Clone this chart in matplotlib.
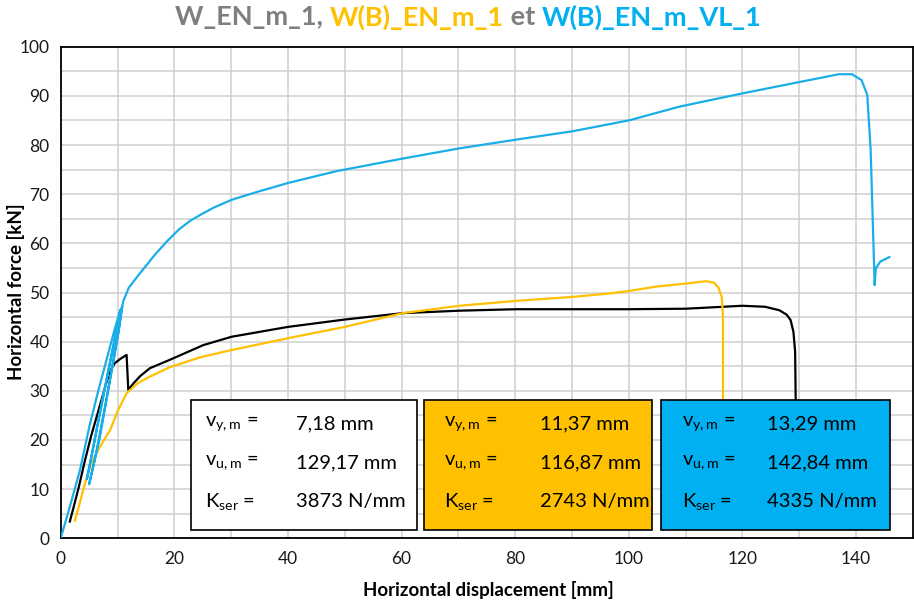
import numpy as np
import matplotlib.pyplot as plt
from matplotlib.patches import Rectangle

plt.rcParams['font.family'] = ['Lato', 'DejaVu Sans']
plt.rcParams['mathtext.default'] = 'regular'

# W_EN_m_1 (black)
kx = [1.6, 2.2, 3.2, 4.2, 5.4, 6.9, 8.0, 8.7, 9.5, 10.5, 11.6, 11.9, 12.8, 14.0, 15.7, 19.2,
      25.1, 30.1, 40.0, 50.0, 60.2, 70.2, 80.2, 90.1, 100.0, 110.0, 120.0, 124.0, 126.5,
      127.8, 128.5, 129.0, 129.3, 129.4, 129.4]
ky = [3.4, 6.0, 10.5, 15.5, 21.0, 27.0, 31.5, 34.0, 35.6, 36.5, 37.3, 30.2, 31.5, 33.0, 34.6, 36.3,
      39.3, 41.0, 43.0, 44.5, 45.8, 46.3, 46.6, 46.6, 46.6, 46.7, 47.3, 47.1, 46.4,
      45.5, 44.4, 42.0, 38.0, 28.0, 3.0]

# W(B)_EN_m_1 (yellow)
yx = [2.5, 3.2, 4.0, 4.6, 5.5, 6.9, 8.7, 10.0, 11.6, 13.5, 15.7, 19.2, 24.5, 30.1, 40.0, 50.0,
      60.2, 70.2, 80.2, 90.1, 96.6, 100.0, 104.8, 110.0, 113.6, 115.0, 115.8, 116.4, 116.6, 116.6]
yy = [3.6, 6.5, 10.0, 12.5, 15.5, 18.6, 22.0, 25.8, 29.5, 31.5, 32.9, 34.8, 36.8, 38.3, 40.7, 43.0,
      45.8, 47.3, 48.3, 49.1, 49.8, 50.3, 51.2, 51.8, 52.3, 52.0, 51.0, 49.0, 45.0, 3.0]

# W(B)_EN_m_VL_1 (blue)
bx = [0, 1.5, 3.4, 5.0, 6.5, 8.0, 9.5, 10.5, 9.8, 8.2, 6.3, 4.6, 5.5, 7.5, 9.5, 10.8,
      10.2, 8.5, 6.8, 5.0, 6.0, 8.0, 10.0, 11.0, 12.0, 13.8, 16.6, 18.7, 20.8, 22.8, 24.9, 27.0,
      30.2, 34.7, 40.1, 48.6, 50.0, 60.0, 70.1, 80.2, 90.1, 100.0, 107.0, 108.9, 120.0,
      130.0, 137.0, 139.3, 141.0, 142.0, 142.6, 143.3, 143.5, 144.3, 145.9]
by = [0, 6, 13.9, 22.5, 29.5, 36, 42.5, 46.5, 42, 33, 22, 12, 17, 29, 40.5, 47.2,
      42, 31, 20, 11, 16, 28, 41, 48.2, 51, 53.7, 57.7, 60.4, 62.8, 64.6, 66.0, 67.3,
      68.9, 70.5, 72.3, 74.7, 75.0, 77.2, 79.3, 81.1, 82.8, 85.0, 87.2, 87.8, 90.5,
      92.8, 94.4, 94.4, 93.2, 90.2, 79.0, 51.5, 54.9, 56.3, 57.2]

labels = ['v$_{y,m}$ =', 'v$_{u,m}$ =', 'K$_{ser}$ =']
vals_k = ['7,18 mm', '129,17 mm', '3873 N/mm']
vals_y = ['11,37 mm', '116,87 mm', '2743 N/mm']
vals_b = ['13,29 mm', '142,84 mm', '4335 N/mm']

YEL = '#FFC000'
BLU = '#00B0F0'
GRY = '#7F7F7F'

W, H = 914, 603
fig = plt.figure(figsize=(9.14, 6.03), dpi=100)
ax = fig.add_axes([60.7 / W, 1 - 538.3 / H, (912.7 - 60.7) / W, (538.3 - 46.7) / H])

ax.plot(kx, ky, color='black', lw=1.6, zorder=3)
ax.plot(yx, yy, color=YEL, lw=1.6, zorder=3)
ax.plot(bx, by, color='#1AAEE8', lw=1.6, zorder=3)

ax.set_xlim(0, 150)
ax.set_ylim(0, 100)
ax.set_xticks(np.arange(0, 151, 10))
ax.set_xticklabels([str(v) if v % 20 == 0 and v < 150 else '' for v in range(0, 151, 10)])
ax.set_yticks(np.arange(0, 101, 5))
ax.set_yticklabels([str(v) if v % 10 == 0 else '' for v in range(0, 101, 5)])
ax.tick_params(length=0, labelsize=12.5, colors='#1a1a1a')
ax.tick_params(axis='x', pad=9)
ax.tick_params(axis='y', pad=8)
ax.grid(True, color='#CFCFCF', lw=1.1, zorder=0)
ax.set_axisbelow(True)
for s in ax.spines.values():
    s.set_linewidth(1.3)
    s.set_color('black')

fig.text(488 / W, 1 - 590 / H, 'Horizontal displacement [mm]', fontsize=13.5,
         fontweight='bold', ha='center', va='center')
fig.text(16 / W, 1 - 292 / H, 'Horizontal force [kN]', fontsize=13.5,
         fontweight='bold', ha='center', va='center', rotation=90)

# parameter boxes
boxes = [(191.2, 417.4, 'white', vals_k, 205, 296),
         (424.4, 652.3, YEL, vals_y, 444, 540),
         (660.5, 890.0, BLU, vals_b, 682, 767)]
for x0, x1, fc, vals, lx, vx in boxes:
    fig.patches.append(Rectangle((x0 / W, 1 - 530 / H), (x1 - x0) / W, 130 / H,
                                 transform=fig.transFigure, facecolor=fc,
                                 edgecolor='black', lw=1.2, zorder=5))
    for i, ypx in enumerate([424, 463, 502]):
        fig.text(lx / W, 1 - ypx / H, labels[i], fontsize=14.5, va='center', ha='left', zorder=6)
        fig.text(vx / W, 1 - ypx / H, vals[i], fontsize=14.5, va='center', ha='left', zorder=6)

# multi-coloured title
parts = [('W_EN_m_1, ', GRY), ('W(B)_EN_m_1', YEL), (' et ', GRY), ('W(B)_EN_m_VL_1', BLU)]
r = fig.canvas.get_renderer()
texts = []
for s, c in parts:
    t = fig.text(0, 1 - 17 / H, s, fontsize=19.5, fontweight='bold', color=c, va='center', ha='left')
    texts.append(t)
widths = [t.get_window_extent(r).width for t in texts]
x = 468 - sum(widths) / 2
for t, w in zip(texts, widths):
    t.set_x(x / W)
    x += w

fig.savefig('out.png', dpi=100)
